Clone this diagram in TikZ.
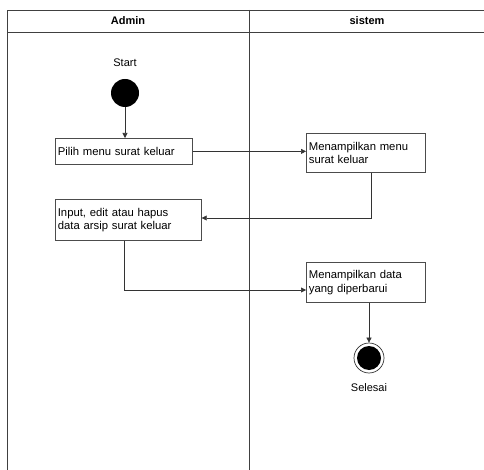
\documentclass[tikz,border=0pt]{standalone}
\usepackage{fontspec}
\setmainfont{Liberation Sans}
\usetikzlibrary{arrows.meta}
\begin{document}
\begin{tikzpicture}[x=1pt,y=-1pt,
  lane/.style={draw=black!75,line width=0.9pt},
  act/.style={draw=black!70,line width=0.7pt,fill=white,align=left,anchor=north west,
    inner sep=1.5pt,font=\fontsize{11.3}{13.5}\selectfont},
  flow/.style={draw=black!80,line width=0.6pt,-{Triangle[length=5pt,width=5pt]}},
  lbl/.style={font=\fontsize{11}{13}\selectfont},
  head/.style={font=\bfseries\fontsize{11}{13}\selectfont}]
\useasboundingbox (0,0) rectangle (484,470);
% swimlane frame
\draw[lane] (484,10) -- (7,10) -- (7,470);
\draw[lane] (7,32) -- (484,32);
\draw[lane] (249,10) -- (249,470);
\node[head] (hadmin) at (128,21) {Admin};
\node[head] (hsys) at (367,21) {sistem};
% start
\node[lbl] (startlbl) at (125,63) {Start};
\node[circle,fill=black,minimum size=28pt,inner sep=0pt] (start) at (125,93) {};
% activities
\node[act,minimum width=137pt,minimum height=26pt,text width=132pt] (a1) at (55,138) {Pilih menu surat keluar};
\node[act,minimum width=119pt,minimum height=39pt,text width=114pt] (a2) at (306,133) {Menampilkan menu\\surat keluar};
\node[act,minimum width=146pt,minimum height=41pt,text width=141pt] (a3) at (55,199) {Input, edit atau hapus\\data arsip surat keluar};
\node[act,minimum width=119pt,minimum height=40pt,text width=114pt] (a4) at (306,262) {Menampilkan data\\yang diperbarui};
% end
\node[circle,draw=black!80,line width=0.7pt,minimum size=30pt,inner sep=0pt] (endo) at (369,358) {};
\node[circle,fill=black,minimum size=24pt,inner sep=0pt] (endi) at (369,358) {};
\node[lbl] (endlbl) at (369,388) {Selesai};
% connectors
\draw[flow] (start) -- (start.south |- a1.north);
\draw[flow] (a1.east) -- (a1.east -| a2.west);
\coordinate (c1) at (371,218);
\draw[flow] (a2.south -| c1) -- (c1) -- (c1 -| a3.east);
\coordinate (c2) at (124,290);
\draw[flow] (a3.south -| c2) -- (c2) -- (c2 -| a4.west);
\draw[flow] (a4.south -| endo) -- (endo.north);
\end{tikzpicture}
\end{document}
